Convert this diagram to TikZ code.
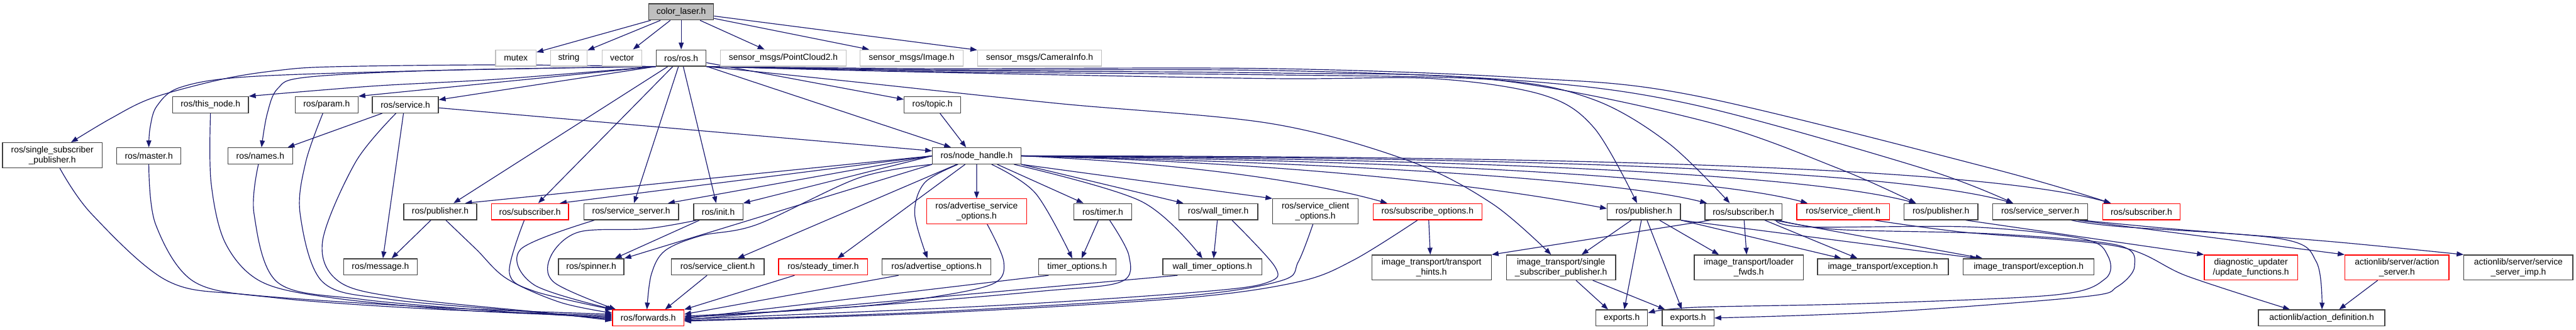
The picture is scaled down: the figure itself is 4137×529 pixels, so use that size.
\documentclass[tikz,border=0pt]{standalone}
\usepackage{fontspec}
\setmainfont{Liberation Sans}
\usetikzlibrary{arrows.meta}
\definecolor{edgec}{HTML}{191970}
\definecolor{nodeb}{HTML}{404040}
\definecolor{lightb}{HTML}{BFBFBF}
\definecolor{mainf}{HTML}{BFBFBF}
\definecolor{redb}{HTML}{FF0000}
\pgfdeclarelayer{bg}
\pgfsetlayers{bg,main}
\begin{document}
\begin{tikzpicture}[x=1pt,y=-1pt,
  box/.style={draw=nodeb, line width=1.3pt, fill=white, inner sep=0pt, align=center,
    font=\fontsize{14pt}{16pt}\selectfont, minimum height=26pt},
  box2/.style={box, minimum height=40pt},
  redbox/.style={draw=redb},
  greybox/.style={draw=lightb},
  mainbox/.style={fill=mainf, draw=nodeb},
  edg/.style={draw=edgec, line width=1.2pt, -{Triangle[length=11pt,width=8pt]}},
  sm/.style={smooth, tension=0.55}
]
\useasboundingbox (0,0) rectangle (4137,529);
% row 0/1
\node[box, mainbox, minimum width=104pt] (cl) at (1094,19) {color\_laser.h};
\node[box, greybox, minimum width=65pt] (mutex) at (828.5,93) {mutex};
\node[box, greybox, minimum width=59pt] (string) at (913.5,93) {string};
\node[box, greybox, minimum width=63.5pt] (vector) at (999,93) {vector};
\node[box, minimum width=80pt] (ros) at (1094,93) {ros/ros.h};
\node[box, greybox, minimum width=202pt] (pc2) at (1258,93) {sensor\_msgs/PointCloud2.h};
\node[box, greybox, minimum width=165pt] (img) at (1464,93) {sensor\_msgs/Image.h};
\node[box, greybox, minimum width=199pt] (cam) at (1669.5,93) {sensor\_msgs/CameraInfo.h};
% row 2
\node[box2, minimum width=160pt] (sspR) at (84,249) {ros/single\_subscriber\\\_publisher.h};
\node[box, minimum width=103pt] (master) at (239,250) {ros/master.h};
\node[box, minimum width=122pt] (thisnode) at (338,168) {ros/this\_node.h};
\node[box, minimum width=101pt] (param) at (524.5,168) {ros/param.h};
\node[box, minimum width=106pt] (service) at (651,168) {ros/service.h};
\node[box, minimum width=104pt] (names) at (418,250) {ros/names.h};
\node[box, minimum width=91pt] (topic) at (1497.5,168) {ros/topic.h};
\node[box, minimum width=142pt] (nh) at (1568.5,250) {ros/node\_handle.h};
% row 3
\node[box, minimum width=117pt] (pubL) at (707,339.5) {ros/publisher.h};
\node[box, redbox, minimum width=124pt] (subL) at (851,339.5) {ros/subscriber.h};
\node[box, minimum width=152pt] (ssL) at (1013.7,339.5) {ros/service\_server.h};
\node[box, minimum width=79pt] (init) at (1153.5,339.5) {ros/init.h};
\node[box2, redbox, minimum width=161pt] (aso) at (1568.4,339) {ros/advertise\_service\\\_options.h};
\node[box, minimum width=92.6pt] (timer) at (1771,339.5) {ros/timer.h};
\node[box, minimum width=127pt] (wtimer) at (1956.5,339.5) {ros/wall\_timer.h};
\node[box2, minimum width=137pt] (sco) at (2112.5,339) {ros/service\_client\\\_options.h};
\node[box, redbox, minimum width=175pt] (subopt) at (2292.5,339.5) {ros/subscribe\_options.h};
\node[box, minimum width=117.5pt] (pub2) at (2640,339.5) {ros/publisher.h};
\node[box, minimum width=124pt] (sub2) at (2800,339.5) {ros/subscriber.h};
\node[box, redbox, minimum width=149pt] (scR) at (2960,339.5) {ros/service\_client.h};
\node[box, minimum width=119pt] (pub3) at (3117,339.5) {ros/publisher.h};
\node[box, minimum width=153pt] (ss2) at (3276.5,339.5) {ros/service\_server.h};
\node[box, redbox, minimum width=124pt] (subR2) at (3439,339.5) {ros/subscriber.h};
% row 4
\node[box, minimum width=118pt] (message) at (611,428) {ros/message.h};
\node[box, minimum width=105pt] (spinner) at (949.5,428) {ros/spinner.h};
\node[box, minimum width=149pt] (scL) at (1152.5,428) {ros/service\_client.h};
\node[box, redbox, minimum width=143pt] (steady) at (1322,428) {ros/steady\_timer.h};
\node[box, minimum width=175pt] (advopt) at (1504,428) {ros/advertise\_options.h};
\node[box, minimum width=124pt] (topt) at (1730,428) {timer\_options.h};
\node[box, minimum width=159pt] (wtopt) at (1947,428) {wall\_timer\_options.h};
\node[box2, minimum width=192pt] (thints) at (2299,429) {image\_transport/transport\\\_hints.h};
\node[box2, minimum width=175.5pt] (itssp) at (2507,429) {image\_transport/single\\\_subscriber\_publisher.h};
\node[box2, minimum width=175pt] (loader) at (2808.5,429) {image\_transport/loader\\\_fwds.h};
\node[box, minimum width=210pt] (exc1) at (3024,428) {image\_transport/exception.h};
\node[box, minimum width=210pt] (exc2) at (3258,428) {image\_transport/exception.h};
\node[box2, redbox, minimum width=150pt] (updf) at (3615,429) {diagnostic\_updater\\/update\_functions.h};
\node[box2, redbox, minimum width=167pt] (aserv) at (3849.5,429) {actionlib/server/action\\\_server.h};
\node[box2, minimum width=175pt] (ssimp) at (4044.5,429) {actionlib/server/service\\\_server\_imp.h};
% row 5
\node[box, redbox, minimum width=114.5pt] (fwd) at (1041,510) {ros/forwards.h};
\node[box, minimum width=83pt] (exp1) at (2604.5,510) {exports.h};
\node[box, minimum width=83pt] (exp2) at (2711,510) {exports.h};
\node[box, minimum width=203pt] (adef) at (3728.5,510) {actionlib/action\_definition.h};

\begin{pgfonlayer}{bg}
% color_laser.h
\draw[edg] (cl) -- (mutex);
\draw[edg] (cl) -- (string);
\draw[edg] (cl) -- (vector);
\draw[edg] (cl) -- (ros);
\draw[edg] (cl) -- (pc2);
\draw[edg] (cl) -- (img);
\draw[edg] (cl) -- (cam);
% ros/ros.h
\draw[edg] plot[sm] coordinates {(ros.south west) (800,104) (536,107) (446,113) (357,127) (245,157) (178,190) ([xshift=30pt]sspR.north)};
\draw[edg] plot[sm] coordinates {(ros.south west) (700,113) (400,123) (290,140) (252,170) (241,205) (master.north)};
\draw[edg] plot[sm] coordinates {(ros.south west) (700,113) (491,124) (446,142) (429,183) ([xshift=2pt]names.north)};
\draw[edg] plot[sm] coordinates {(ros.south west) (800,127) (600,138) (thisnode.north east)};
\draw[edg] (ros.south west) -- (param.north east);
\draw[edg] (ros.south west) -- ([yshift=8pt]service.east);
\draw[edg] (ros) -- (topic);
\draw[edg] (ros) -- (nh);
\draw[edg] (ros) -- (pubL);
\draw[edg] (ros) -- (subL);
\draw[edg] (ros) -- (ssL);
\draw[edg] (ros) -- (init);
\draw[edg] plot[sm] coordinates {(ros.south east) (1500,116) (2040,126) (2300,126) (2477,152) (2560,205) ([xshift=-11pt]pub2.north)};
\draw[edg] plot[sm] coordinates {(ros.south east) (1500,115) (2040,120) (2400,128) (2560,160) (2680,230) ([xshift=-22pt]sub2.north)};
\draw[edg] plot[sm] coordinates {(ros.south east) (1500,113) (2040,117) (2400,128) (2740,195) (2952,270) ([xshift=-40pt]pub3.north)};
\draw[edg] plot[sm] coordinates {(ros.south east) (1500,112) (2040,113) (2450,130) (2720,168) (3088,270) ([xshift=-43.5pt]ss2.north)};
\draw[edg] plot[sm] coordinates {(ros.south east) (1500,110) (2040,110) (2450,125) (2720,153) (3198,270) ([xshift=-49pt]subR2.north)};
\draw[edg] plot[sm] coordinates {(ros.south east) (1360,130) (1700,166) (2040,198) (2263,258) (2397,327) ([xshift=-16pt]itssp.north)};
% ros/topic.h
\draw[edg] ([xshift=12pt]topic.south) -- ([xshift=-17pt]nh.north);
% ros/node_handle.h
\draw[edg] (nh.west) -- ([xshift=40pt]pubL.north);
\draw[edg] (nh.west) -- ([xshift=48pt]subL.north);
\draw[edg] (nh.west) -- ([xshift=59pt]ssL.north);
\draw[edg] (nh.west) -- (init.north east);
\draw[edg] (nh.south west) -- (spinner.north east);
\draw[edg] (nh) -- ([xshift=32pt]scL.north);
\draw[edg] (nh) -- ([xshift=23pt]steady.north);
\draw[edg] plot[sm] coordinates {(nh.south west) (1380,285) (1216,360) (1126,378) (1068,402) (1046,440) ([xshift=-2pt]fwd.north)};
\draw[edg] plot[sm] coordinates {([xshift=-30pt]nh.south) (1485,293) (1469,343) ([xshift=-14.5pt]advopt.north)};
\draw[edg] (nh) -- (aso);
\draw[edg] plot[sm] coordinates {([xshift=24pt]nh.south) (1663,310) ([xshift=-8pt]topt.north)};
\draw[edg] ([xshift=33pt]nh.south) -- ([xshift=-31pt]timer.north);
\draw[edg] plot[sm] coordinates {([xshift=60pt]nh.south) (1833,323) ([xshift=-16pt]wtopt.north)};
\draw[edg] (nh.south east) -- ([xshift=-56pt]wtimer.north);
\draw[edg] (nh.south east) -- (sco.north west);
\draw[edg] (nh.east) .. controls (1900,262) and (2100,290) .. ([xshift=-64.5pt]subopt.north);
\draw[edg] (nh.east) .. controls (2100,262) and (2400,300) .. ([yshift=5pt]pub2.west);
\draw[edg] (nh.east) .. controls (2200,262) and (2600,290) .. ([xshift=4pt]sub2.north west);
\draw[edg] (nh.east) .. controls (2300,258) and (2750,285) .. ([xshift=-57pt]scR.north);
\draw[edg] (nh.east) .. controls (2400,255) and (2900,280) .. ([xshift=-40pt]pub3.north);
\draw[edg] (nh.east) .. controls (2500,252) and (3050,275) .. ([xshift=-43.5pt]ss2.north);
\draw[edg] (nh.east) .. controls (2600,250) and (3200,272) .. ([xshift=-49pt]subR2.north);
% left group into forwards
\draw[edg] plot[sm] coordinates {([xshift=12pt]sspR.south) (147,343) (268,450) (402,473) (700,493) ([yshift=6pt]fwd.west)};
\draw[edg] plot[sm] coordinates {(master.south) (250,360) (312,452) (446,478) (700,496) ([yshift=4pt]fwd.west)};
\draw[edg] plot[sm] coordinates {(thisnode.south) (339,293) (362,390) (420,452) (536,478) (750,498) ([yshift=2pt]fwd.west)};
\draw[edg] plot[sm] coordinates {([xshift=-3pt]names.south) (408,343) (446,453) (580,480) (800,499) (fwd.west)};
\draw[edg] plot[sm] coordinates {([xshift=-6pt]param.south) (491,260) (482,343) (518,452) (625,480) (850,500) ([yshift=-2pt]fwd.west)};
\draw[edg] plot[sm] coordinates {([xshift=-15pt]service.south) (571,260) (518,387) (545,452) (647,478) (880,502) ([yshift=-4pt]fwd.west)};
\draw[edg] ([xshift=-37pt]service.south) -- ([xshift=44pt]names.north);
\draw[edg] ([xshift=-3pt]service.south) -- ([xshift=4pt]message.north);
\draw[edg] ([yshift=-5pt]service.east) -- ([yshift=8pt]nh.west);
\draw[edg] ([xshift=-15pt]pubL.south) -- ([xshift=18pt]message.north);
\draw[edg] plot[sm] coordinates {([xshift=9pt]pubL.south) (765,400) (814,447) (900,485) ([yshift=8pt]fwd.west)};
\draw[edg] plot[sm] coordinates {([xshift=-9pt]subL.south) (818,437) (858,467) (fwd.north west)};
\draw[edg] plot[sm] coordinates {([xshift=-59pt]ssL.south) (836,400) (858,457) ([xshift=3pt]fwd.north west)};
\draw[edg] ([xshift=-30pt]init.south) -- ([xshift=38pt]spinner.north);
\draw[edg] plot[sm] coordinates {([xshift=-34pt]init.south) (1037,367) (930,372) (885,410) (890,453) ([xshift=6pt]fwd.north west)};
\draw[edg] ([xshift=-17pt]scL.south) -- ([xshift=27pt]fwd.north);
\draw[edg] ([xshift=-46pt]steady.south) -- (fwd.north east);
\draw[edg] ([xshift=-61pt]advopt.south) -- ([yshift=6pt]fwd.east);
\draw[edg] plot[sm] coordinates {([xshift=17pt]aso.south) (1612,420) (1595,455) (1494,477) (1360,493) ([yshift=3pt]fwd.east)};
\draw[edg] ([xshift=-7pt]timer.south) -- ([xshift=7pt]topt.north);
\draw[edg] plot[sm] coordinates {([xshift=11pt]timer.south) (1813,410) (1800,452) (1672,467) (1400,490) ([yshift=1pt]fwd.east)};
\draw[edg] ([xshift=-46pt]topt.south) -- ([yshift=-1pt]fwd.east);
\draw[edg] ([xshift=-1.5pt]wtimer.south) -- ([xshift=2pt]wtopt.north);
\draw[edg] plot[sm] coordinates {([xshift=22pt]wtimer.south) (2047,427) (2038,452) (1940,467) (1600,490) ([yshift=-2pt]fwd.east)};
\draw[edg] ([xshift=-56pt]wtopt.south) -- ([yshift=-3pt]fwd.east);
\draw[edg] plot[sm] coordinates {([xshift=-4pt]sco.south) (2085,420) (2058,450) (1900,475) (1500,500) ([yshift=-4pt]fwd.east)};
\draw[edg] plot[sm] coordinates {([xshift=-16pt]subopt.south) (2174,417) (2085,452) (1900,478) (1500,502) ([yshift=-5pt]fwd.east)};
\draw[edg] ([xshift=2pt]subopt.south) -- ([xshift=-2pt]thints.north);
% right group
\draw[edg] ([xshift=-20pt]pub2.south) -- ([xshift=33pt]itssp.north);
\draw[edg] ([xshift=-4pt]pub2.south) -- ([xshift=4pt]exp1.north);
\draw[edg] ([xshift=5pt]pub2.south) -- ([xshift=-10pt]exp2.north);
\draw[edg] ([xshift=25pt]pub2.south) -- ([xshift=-48pt]loader.north);
\draw[edg] (pub2.south east) -- ([xshift=-67pt]exc1.north);
\draw[edg] (pub2.south east) -- ([xshift=-83pt]exc2.north);
\draw[edg] ([xshift=24pt]itssp.south) -- ([xshift=-22pt]exp1.north);
\draw[edg] ([xshift=51pt]itssp.south) -- ([xshift=-37pt]exp2.north);
\draw[edg] ([xshift=-53pt]sub2.south) -- (thints.north east);
\draw[edg] ([xshift=1pt]sub2.south) -- ([xshift=-3.5pt]loader.north);
\draw[edg] ([xshift=34pt]sub2.south) -- ([xshift=-41pt]exc1.north);
\draw[edg] ([xshift=49pt]sub2.south) -- ([xshift=-74pt]exc2.north);
\draw[edg] plot[sm] coordinates {([xshift=52pt]sub2.south) (2900,364) (3166,364) (3345,383) (3385,410) (3381,447) (3300,473) (2988,487) (2720,493) ([yshift=8pt]exp1.east)};
\draw[edg] plot[sm] coordinates {([xshift=56pt]sub2.south) (2950,368) (3200,375) (3400,393) (3428,427) (3400,460) (3345,476) (3032,500) (exp2.east)};
\draw[edg] plot[sm] coordinates {([xshift=50pt]scR.south) (3150,372) (3400,395) (3513,443) ([xshift=-51pt]adef.north)};
\draw[edg] ([xshift=40pt]pub3.south) -- (updf.north west);
\draw[edg] plot[sm] coordinates {([xshift=50pt]ss2.south) (3400,363) (3663,383) (3720,420) ([xshift=0.5pt]adef.north)};
\draw[edg] ([xshift=60pt]ss2.south) -- (aserv.north west);
\draw[edg] plot[sm] coordinates {([xshift=66pt]ss2.south) (3500,368) (3750,388) (ssimp.north west)};
\draw[edg] ([xshift=-31pt]aserv.south) -- ([xshift=28pt]adef.north);
\end{pgfonlayer}
\end{tikzpicture}
\end{document}
